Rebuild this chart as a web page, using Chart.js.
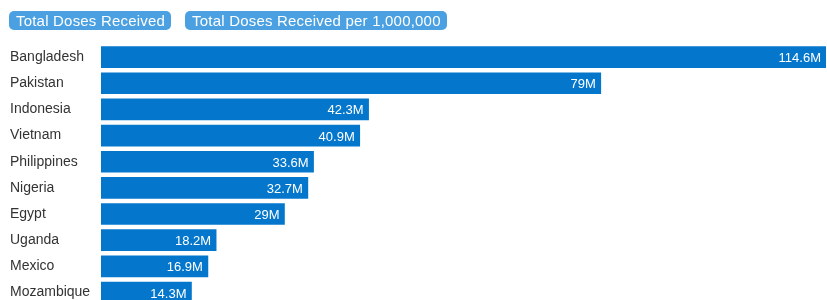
<!DOCTYPE html>
<html>
<head>
<meta charset="utf-8">
<script src="https://cdn.jsdelivr.net/npm/chart.js@4/dist/chart.umd.min.js"></script>
<style>
  html, body { margin: 0; padding: 0; background: #fff; overflow: hidden; width: 827px; height: 300px; }
  #legend { position: absolute; left: 9px; top: 11px; display: flex; gap: 14px; font-family: "Liberation Sans", Arial, sans-serif; font-size: 15px; letter-spacing: 0.2px; z-index: 2; }
  #legend span { display: inline-block; background: #4aa0e0; color: #fff; border-radius: 5px; height: 19px; line-height: 19px; padding: 0 6px 0 7px; white-space: nowrap; }
  #c { position: absolute; left: 0; top: 0; }
</style>
</head>
<body>
<div id="legend"></div>
<canvas id="c" width="827" height="314"></canvas>
<script>
const countries = ["Bangladesh", "Pakistan", "Indonesia", "Vietnam", "Philippines", "Nigeria", "Egypt", "Uganda", "Mexico", "Mozambique"];
const dosesMillions = [114.6, 79, 42.3, 40.9, 33.6, 32.7, 29, 18.2, 16.9, 14.3];
const legendLabels = ["Total Doses Received", "Total Doses Received per 1,000,000"];

const legendEl = document.getElementById('legend');
legendLabels.forEach(t => { const s = document.createElement('span'); s.textContent = t; legendEl.appendChild(s); });

const barLabels = {
  id: 'barLabels',
  afterDatasetsDraw(chart) {
    const ctx = chart.ctx;
    const meta = chart.getDatasetMeta(0);
    ctx.save();
    ctx.font = '13px "Liberation Sans", Arial, sans-serif';
    ctx.fillStyle = '#ffffff';
    ctx.textAlign = 'right';
    ctx.textBaseline = 'middle';
    meta.data.forEach((bar, i) => {
      ctx.fillText(dosesMillions[i] + 'M', bar.x - 5, bar.y + 1.5);
    });
    ctx.restore();
  }
};

new Chart(document.getElementById('c'), {
  type: 'bar',
  data: {
    labels: countries,
    datasets: [{
      label: legendLabels[0],
      data: dosesMillions,
      backgroundColor: '#0477cc',
      borderWidth: 0,
      barThickness: 21
    }]
  },
  options: {
    indexAxis: 'y',
    responsive: false,
    animation: false,
    layout: { padding: { left: 10, right: 1, top: 44, bottom: 0 } },
    plugins: { legend: { display: false }, tooltip: { enabled: false } },
    scales: {
      x: { display: false, min: 0, max: Math.max(...dosesMillions) },
      y: {
        grid: { display: false },
        border: { display: false },
        ticks: {
          crossAlign: 'far',
          color: '#333333',
          font: { family: '"Liberation Sans", Arial, sans-serif', size: 14 },
          padding: 0
        },
        afterFit(scale) { scale.width = 91; }
      }
    }
  },
  plugins: [barLabels]
});
</script>
</body>
</html>
